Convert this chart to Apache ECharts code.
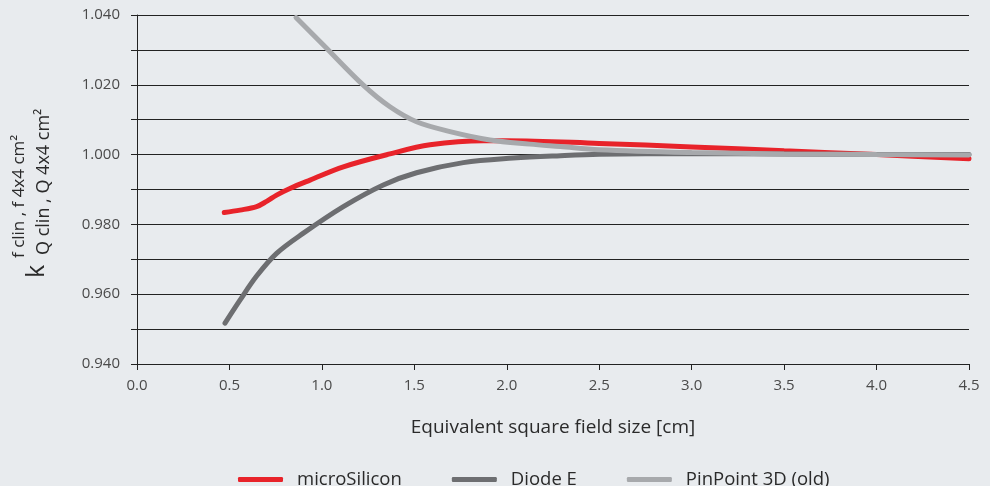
<!DOCTYPE html>
<html><head><meta charset="utf-8">
<script src="https://cdn.jsdelivr.net/npm/echarts@6/dist/echarts.min.js"></script>
<style>html,body{margin:0;padding:0;background:#e7eaed}#c{width:990px;height:486px}</style>
</head><body><div id="c"></div>
<script>
var microSiliconX = [0.472, 0.557, 0.647, 0.701, 0.755, 0.827, 0.936, 1.116, 1.368, 1.585, 1.873, 2.0, 2.5, 3.0, 3.5, 4.0, 4.5];
var microSiliconY = [0.9834, 0.9841, 0.9851, 0.9866, 0.9884, 0.9903, 0.9927, 0.9965, 1.0002, 1.0028, 1.0040, 1.0040, 1.0032, 1.0022, 1.0011, 1.0000, 0.9988];
var diodeEX = [0.476, 0.557, 0.647, 0.755, 0.900, 1.116, 1.332, 1.512, 1.765, 2.035, 2.29, 2.5, 3.0, 3.5, 4.0, 4.5];
var diodeEY = [0.9517, 0.9583, 0.9652, 0.9717, 0.9775, 0.9851, 0.9913, 0.9948, 0.9977, 0.9990, 0.9997, 1.0001, 1.0003, 1.0002, 1.0000, 1.0000];
var pinPointX = [0.860, 1.008, 1.224, 1.368, 1.512, 1.693, 1.909, 2.125, 2.29, 2.5, 3.0, 3.5, 4.0, 4.5];
var pinPointY = [1.0393, 1.0314, 1.0199, 1.0137, 1.0094, 1.0066, 1.0042, 1.0030, 1.0023, 1.0014, 1.0006, 1.0002, 1.0000, 0.9999];
var seriesNames = ['microSilicon', 'Diode E', 'PinPoint 3D (old)'];
var xAxisTitle = 'Equivalent square field size [cm]';
var yLabelMain = 'k';
var yLabelSup = 'f clin , f 4x4 cm²';
var yLabelSub = 'Q clin , Q 4x4 cm²';

function pairs(xs, ys){ return xs.map(function(x,i){ return [x, ys[i]]; }); }
var font = '"Open Sans", "Noto Sans", sans-serif';
var chart = echarts.init(document.getElementById('c'));
chart.setOption({
  backgroundColor: '#e8ebee',
  animation: false,
  grid: {left: 137, right: 21, top: 15, bottom: 122},
  xAxis: {
    type: 'value', min: 0, max: 4.5, interval: 0.5,
    name: xAxisTitle, nameLocation: 'middle', nameGap: 54,
    nameTextStyle: {fontFamily: font, fontSize: 19, color: '#2a2a2a'},
    axisLine: {lineStyle: {color: '#222', width: 1}},
    axisTick: {show: true, length: 6, lineStyle: {color: '#222'}},
    axisLabel: {fontFamily: font, fontSize: 15, color: '#4a4a4a', margin: 14,
      formatter: function(v){ return v.toFixed(1); }},
    splitLine: {show: false}
  },
  yAxis: {
    type: 'value', min: 0.94, max: 1.04, interval: 0.01,
    axisLine: {show: true, lineStyle: {color: '#222', width: 1}},
    axisTick: {show: true, length: 6, inside: false, lineStyle: {color: '#222'}},
    axisLabel: {fontFamily: font, fontSize: 15, color: '#4a4a4a', margin: 17,
      formatter: function(v){ var m = Math.round(v*1000); return (m % 20 === 0) ? (m/1000).toFixed(3) : ''; }},
    splitLine: {show: true, lineStyle: {color: '#222', width: 1}}
  },
  legend: {
    top: 465, left: 233, itemWidth: 45, itemHeight: 5, itemGap: 50, icon: 'roundRect',
    textStyle: {fontFamily: font, fontSize: 18.5, color: '#2a2a2a', padding: [0,0,0,9]},
    data: seriesNames
  },
  series: [
    {name: seriesNames[0], type: 'line', smooth: 0.35, symbol: 'none', data: pairs(microSiliconX, microSiliconY),
     lineStyle: {color: '#e8232a', width: 5, cap: 'round'}, itemStyle: {color: '#e8232a'}},
    {name: seriesNames[1], type: 'line', smooth: 0.35, symbol: 'none', data: pairs(diodeEX, diodeEY),
     lineStyle: {color: '#6d6e71', width: 5, cap: 'round'}, itemStyle: {color: '#6d6e71'}},
    {name: seriesNames[2], type: 'line', smooth: 0.35, symbol: 'none', data: pairs(pinPointX, pinPointY),
     lineStyle: {color: '#a7a9ac', width: 5, cap: 'round'}, itemStyle: {color: '#a7a9ac'}}
  ],
  graphic: [{
    type: 'group', x: 37, y: 278, rotation: Math.PI/2,
    children: [
      {type: 'text', x: 0, y: 0, style: {text: yLabelMain, font: '25px ' + font, fill: '#2a2a2a', textVerticalAlign: 'middle'}},
      {type: 'text', x: 20, y: -18, style: {text: yLabelSup, font: '17px ' + font, fill: '#2a2a2a', textVerticalAlign: 'middle'}},
      {type: 'text', x: 23, y: 7, style: {text: yLabelSub, font: '18px ' + font, fill: '#2a2a2a', textVerticalAlign: 'middle'}}
    ]
  }]
});
</script></body></html>
